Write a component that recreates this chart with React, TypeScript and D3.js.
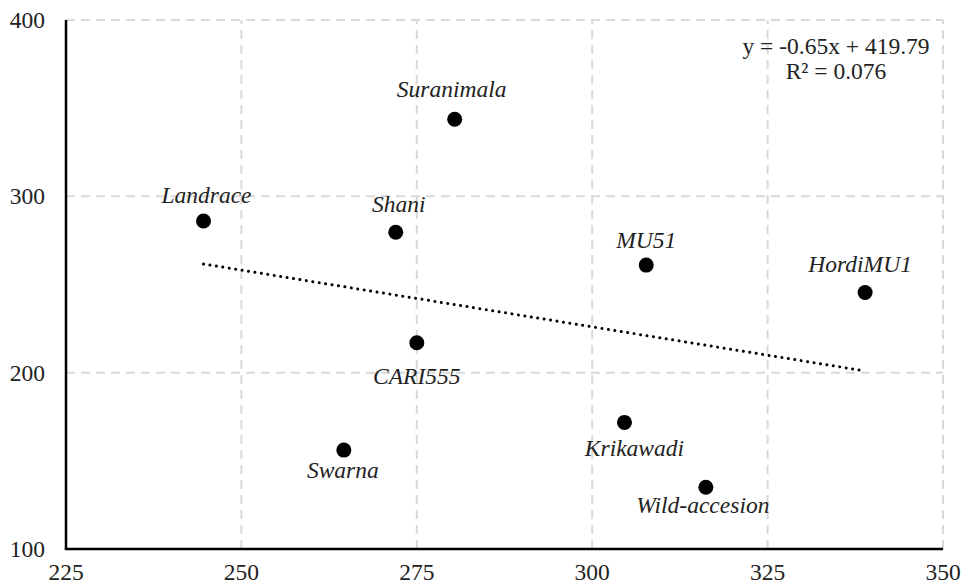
import React from "react";
import * as d3 from "d3";

const names = ["Landrace", "Suranimala", "Shani", "MU51", "HordiMU1", "CARI555", "Swarna", "Krikawadi", "Wild-accesion"];
const xValues = [244.6, 280.4, 272.0, 307.7, 338.9, 275.0, 264.6, 304.6, 316.2];
const yValues = [286.0, 343.7, 279.6, 261.0, 245.5, 217.0, 156.1, 171.8, 135.0];
// label placement: dy from point to baseline, dx horizontal shift
const labelDy = [-18, -22, -20, -17, -20, 41, 28, 34, 26];
const labelDx = [3, -3, 3, 0, -5, 0, -1, 10, -3];
const xTicks = [225, 250, 275, 300, 325, 350];
const yTicks = [100, 200, 300, 400];
const equationLines = ["y = -0.65x + 419.79", "R² = 0.076"];

const W = 964, H = 585;
const M = { left: 66, top: 20, right: 21, bottom: 36 };

export default function App() {
  const x = d3.scaleLinear().domain([225, 350]).range([M.left, W - M.right]);
  const y = d3.scaleLinear().domain([100, 400]).range([H - M.bottom, M.top]);

  const n = xValues.length;
  const mx = d3.mean(xValues) as number;
  const my = d3.mean(yValues) as number;
  let sxy = 0, sxx = 0;
  for (let i = 0; i < n; i++) {
    sxy += (xValues[i] - mx) * (yValues[i] - my);
    sxx += (xValues[i] - mx) ** 2;
  }
  const slope = sxy / sxx;
  const intercept = my - slope * mx;
  const [x0, x1] = d3.extent(xValues) as [number, number];
  const trend = d3.line<number>().x((v) => x(v)).y((v) => y(slope * v + intercept))([x0, x1]) as string;

  const font = "Times New Roman, Liberation Serif, Tinos, DejaVu Serif, serif";
  const grid = "#d9d9d9";
  const fs = 23.5;

  return (
    <svg width={W} height={H} style={{ position: "absolute", left: 0, top: 0, background: "#fff" }}>
      <rect x={0} y={0} width={W} height={H} fill="#fff" />
      {yTicks.filter((t) => t !== 100).map((t) => (
        <line key={"gy" + t} x1={x(225)} x2={x(350)} y1={y(t)} y2={y(t)} stroke={grid} strokeWidth={2} strokeDasharray="9 6" />
      ))}
      {xTicks.filter((t) => t !== 225).map((t) => (
        <line key={"gx" + t} x1={x(t)} x2={x(t)} y1={y(100)} y2={y(400)} stroke={grid} strokeWidth={2} strokeDasharray="9 6" />
      ))}
      <line x1={x(225)} x2={x(225)} y1={y(100)} y2={y(400)} stroke="#000" strokeWidth={2.5} />
      <line x1={x(225) - 1.25} x2={x(350)} y1={y(100)} y2={y(100)} stroke="#000" strokeWidth={2.5} />
      {yTicks.map((t) => (
        <text key={"ty" + t} x={x(225) - 21} y={y(t) + 8} textAnchor="end" fontFamily={font} fontSize={fs} fill="#222">{t}</text>
      ))}
      {xTicks.map((t) => (
        <text key={"tx" + t} x={x(t)} y={580} textAnchor="middle" fontFamily={font} fontSize={fs} fill="#222">{t}</text>
      ))}
      <path d={trend} fill="none" stroke="#000" strokeWidth={3} strokeLinecap="round" strokeDasharray="0.01 6.5" />
      {xValues.map((v, i) => (
        <circle key={"p" + i} cx={x(v)} cy={y(yValues[i])} r={7.5} fill="#000" />
      ))}
      {names.map((nm, i) => (
        <text key={"l" + i} x={x(xValues[i]) + labelDx[i]} y={y(yValues[i]) + labelDy[i]} textAnchor="middle" fontFamily={font} fontStyle="italic" fontSize={fs} fill="#222">{nm}</text>
      ))}
      {equationLines.map((s, i) => (
        <text key={"eq" + i} x={836} y={54 + i * 25} textAnchor="middle" fontFamily={font} fontSize={fs} fill="#222">{s}</text>
      ))}
    </svg>
  );
}
